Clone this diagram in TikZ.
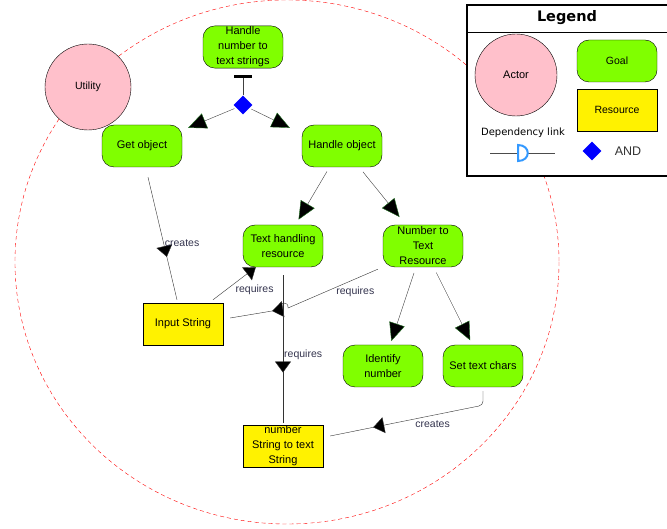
\documentclass[tikz,border=0pt]{standalone}
\usepackage{fontspec}
\setmainfont{Liberation Sans}
\newfontfamily\legendfont{DejaVu Sans}
\usepackage{tikz}
\usetikzlibrary{arrows.meta}
\usetikzlibrary{calc}
\usetikzlibrary{shapes.geometric}
\usetikzlibrary{decorations.markings}
\definecolor{goalgreen}{HTML}{80FF00}
\definecolor{actorpink}{HTML}{FFC0CB}
\definecolor{andblue}{HTML}{0000FF}
\definecolor{linkblue}{HTML}{3399FF}
\definecolor{edgegreen}{HTML}{1E6E1E}
\definecolor{labeltext}{HTML}{33334D}
\tikzset{
  goal/.style={draw, rounded corners=12pt, fill=goalgreen, minimum width=80pt, minimum height=42pt, inner sep=1pt, align=center, font=\fontsize{11}{15}\selectfont},
  resource/.style={draw, fill=yellow, minimum width=80pt, minimum height=42pt, inner sep=1pt, align=center, font=\fontsize{11}{15}\selectfont},
  actor/.style={draw, circle, fill=actorpink, minimum size=82pt, inner sep=0pt, font=\fontsize{10.5}{12}\selectfont},
  andnode/.style={diamond, fill=andblue, minimum size=19pt, inner sep=0pt},
  meansend/.style={draw=black!75, -{Triangle[length=18pt,width=16pt,fill=black,color=edgegreen]}},
  dep/.style={draw=black!80, postaction={decorate}, decoration={markings, mark=at position #1 with {\arrow{Triangle[length=11pt,width=16pt,fill=black]}}}},
  dep/.default=0.5,
  deparrow/.style={draw=black!80, -{Triangle[length=11pt,width=16pt,fill=black]}},
  linklabel/.style={text=labeltext, inner sep=1pt, font=\fontsize{10.5}{12}\selectfont}
}

\begin{document}
\begin{tikzpicture}[x=1pt, y=-1pt]
  \useasboundingbox (0,0) rectangle (667,529);
  % actor boundary
  \draw[red, dash pattern=on 4pt off 3pt] (287,262) ellipse [x radius=272, y radius=262];
  \node[actor, minimum height=86pt] (utility) at (88,87) {Utility};

  % goals and resources
  \node[goal] (hntts) at (243,47) {Handle\\number to\\text strings};
  \node[andnode] (andd) at (243,105) {};
  \node[goal] (getobj) at (142,146) {Get object};
  \node[goal] (handle) at (342,146) {Handle object};
  \node[goal] (texthr) at (283,246) {Text handling\\resource};
  \node[goal] (ntres) at (423,246) {Number to\\Text\\Resource};
  \node[resource] (instr) at (183,324) {Input String};
  \node[goal] (identify) at (383,366) {Identify\\number};
  \node[goal] (settext) at (483,366) {Set text chars};
  \node[resource] (nsts) at (283,446) {number\\String to text\\String};

  % decomposition
  \draw[black!75, -{Bar[width=18pt,line width=3pt,color=black]}, shorten >=7pt] (andd) -- (hntts);
  \draw[meansend, shorten <=2pt] (andd) -- ($(getobj.north east)+(6,3)$);
  \draw[meansend, shorten <=2pt] (andd) -- ($(handle.north west)+(-12,3)$);
  \draw[meansend, shorten <=5pt, shorten >=6pt] (handle) -- (texthr);
  \draw[meansend, shorten <=6pt, shorten >=10pt] (handle) -- (ntres);
  \draw[meansend, shorten <=6pt, shorten >=4pt] (ntres) -- (identify);
  \draw[meansend, shorten <=6pt, shorten >=5pt] (ntres) -- (settext);

  % dependencies
  \draw[dep=0.65] ($(getobj.south)+(6,10)$) -- node[linklabel, pos=0.54, right] (lblcreatesA) {creates} ($(instr.north)+(-6,-3)$);
  \draw[deparrow] ($(instr.north)+(30,-3)$) -- node[linklabel, pos=0.5, anchor=north west] (lblreqA) {requires} ($(texthr.south west)+(13,0)$);
  \draw[dep=0.74] ($(ntres.south west)+(-5,2)$) -- node[linklabel, pos=0.25, below=7pt] (lblreqB) {requires} (288,308)
    .. controls (289,301) and (279,301) .. (278,310) -- ($(instr.east)+(7,-6)$);
  \draw[dep=0.66] ($(texthr.south)+(0,8)$) -- node[linklabel, pos=0.54, right] (lblreqC) {requires} ($(nsts.north)+(0,-2)$);
  \draw[dep=0.74, rounded corners=4pt] ($(settext.south)+(0,4)$) -- ($(settext.south)+(0,18)$)
    -- node[linklabel, pos=0.33, below=4pt] (lblcreatesB) {creates} ($(nsts.east)+(7,-10)$);

  % legend
  \draw[line width=2.5pt, fill=white] (467,5) rectangle (675,176);
  \draw (467,32) -- (675,32);
  \node[font=\legendfont\bfseries\fontsize{14.5}{16}\selectfont] (legtitle) at (567,18) {Legend};
  \node[actor, font=\fontsize{11}{13}\selectfont] (legactor) at (516,75) {Actor};
  \node[goal, font=\fontsize{10.5}{12}\selectfont] (leggoal) at (617,61) {Goal};
  \node[resource, font=\fontsize{10.5}{12}\selectfont] (legres) at (617,110) {Resource};
  \node[font=\legendfont\fontsize{10}{12}\selectfont] (legdep) at (523,133) {Dependency link};
  \coordinate (depa) at (490,153);
  \coordinate (depb) at (555,153);
  \draw[black!70] (depa) -- (depb);
  \draw[linkblue, line width=2pt, fill=white] (518,145) .. controls (531,145) and (531,161) .. (518,161) -- cycle;
  \node[andnode] (legand) at (592,151) {};
  \node[font=\fontsize{12.5}{14}\selectfont, text=black!80] (legandtxt) at (628,151) {AND};
\end{tikzpicture}
\end{document}
